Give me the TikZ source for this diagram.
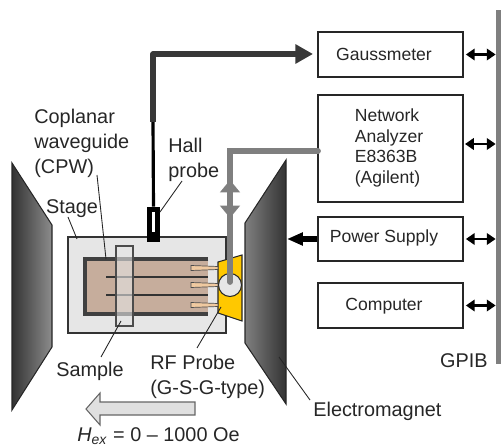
\documentclass[tikz,border=0pt]{standalone}
\usepackage{fontspec}
\setmainfont{Liberation Sans}
\usepackage{xcolor}
\usetikzlibrary{arrows.meta}
\definecolor{busgray}{HTML}{7F7F7F}
\definecolor{stagegray}{HTML}{E6E6E6}
\definecolor{cpwbrown}{HTML}{C6AD9C}
\definecolor{fingertan}{HTML}{EFC9A0}
\definecolor{probeyellow}{HTML}{FFC800}
\tikzset{
  box/.style={draw=black!85,line width=1pt,minimum width=2.9cm,inner sep=0pt},
  busarrow/.style={line width=1.2pt,{Triangle[length=5pt,width=6.5pt]}-{Triangle[length=5pt,width=6.5pt]}},
  leader/.style={line width=0.5pt,black!85},
  txt/.style={font=\fontsize{10}{11.9}\selectfont,text=black!85,inner sep=0pt},
  lab/.style={font=\fontsize{11.3}{14.2}\selectfont,text=black!85,inner sep=0pt},
}
\begin{document}
\begin{tikzpicture}[x=0.02cm,y=-0.02cm]
      \useasboundingbox (0,0) rectangle (501,446);
      % Magnets
      \draw[black!85,line width=0.6pt,left color=black!80,right color=black!45]
        (12,163) -- (52,225) -- (52,347) -- (12,410) -- cycle;
      \draw[black!85,line width=0.6pt,left color=black!50,right color=black!80]
        (245,223) -- (286,160) -- (286,404) -- (245,343) -- cycle;
      % Stage and waveguide
      \node[draw=black!80,line width=0.7pt,fill=stagegray,minimum width=3.16cm,minimum height=1.92cm,inner sep=0pt] (Stage) at (147,285) {};
      \node[fill=cpwbrown,minimum width=2.46cm,minimum height=1.1cm,inner sep=0pt] (CPW) at (146.5,286.5) {};
      \draw[black!75,line width=2.2pt] (CPW.north east) -- (CPW.north west) -- (CPW.south west) -- (CPW.south east);
      \coordinate (LineA) at (106,277);
      \coordinate (LineB) at (106,295);
      \draw[black!80,line width=1.7pt] (LineA) -- (LineA -| CPW.east);
      \draw[black!80,line width=1.7pt] (LineB) -- (LineB -| CPW.east);
      \node[draw=black!70,line width=0.6pt,fill=black!10,fill opacity=0.6,minimum width=0.34cm,minimum height=1.6cm,inner sep=0pt] (Sample) at (124.5,286) {};
      % RF probe
      \draw[black!85,line width=0.6pt,fill=probeyellow] (218,262) -- (242,255) -- (242,321) -- (218,313) -- cycle;
      \foreach \y in {268,285,305}
        \draw[black!70,line width=0.4pt,fill=fingertan] (191,\y-2.5) -- (218,\y-1.5) -- (218,\y+1.5) -- (191,\y+2.5) -- cycle;
      \node[circle,draw=black!85,line width=0.6pt,fill=stagegray,minimum size=0.46cm,inner sep=0pt] (Tip) at (230,285) {};
      % Hall probe
      \node[fill=black,minimum width=0.26cm,minimum height=0.7cm,inner sep=0pt] (Hall) at (153.5,224.5) {};
      \node[fill=white,minimum width=0.06cm,minimum height=0.4cm,inner sep=0pt] (HallSlit) at (153.5,222) {};
      % Boxes
      \node[box,minimum height=0.9cm] (Gauss) at (390.5,54.5) {};
      \node[box,minimum height=2.14cm] (Network) at (390.5,148.5) {};
      \node[box,minimum height=0.88cm] (Power) at (390.5,239) {};
      \node[box,minimum height=0.9cm] (Comp) at (390.5,305.5) {};
      \node[fill=busgray,minimum width=0.1cm,minimum height=7.08cm,inner sep=0pt] (Bus) at (498.5,187) {};
      \node[txt] (GaussText) at (384,54.5) {Gaussmeter};
      \node[txt,align=left] (NetText) at (389,148) {Network\\Analyzer\\E8363B\\(Agilent)};
      \node[txt] (PowerText) at (384,238) {Power Supply};
      \node[txt] (CompText) at (384,306) {Computer};
      % Connectors
      \foreach \b in {Gauss,Power,Comp}
        \draw[busarrow] (\b.east) ++(2,0) -- (\b.east -| Bus.west);
      \coordinate (NetBus) at (465,144);
      \draw[busarrow] (NetBus) -- (NetBus -| Bus.west);
      \coordinate (HallBend) at (153,54);
      \coordinate (HallJoin) at (153,122);
      \coordinate (GaussPort) at (313,54);
      \coordinate (NetPort) at (318,151);
      \coordinate (RfBend) at (230,151);
      \coordinate (MagPort) at (287,239);
      \draw[black,line width=1.8pt] (Hall.north) -- (HallJoin);
      \draw[black!78,line width=3.2pt,line join=round,-{Triangle[length=10pt,width=10.5pt]}] (HallJoin) -- (HallBend) -- (GaussPort);
      \draw[busgray,line width=3.3pt,line cap=round] (Tip.center) ++(0,-3) -- (RfBend) -- (NetPort);
      \draw[busgray,line width=3pt,-{Triangle[length=7pt,width=11pt]}] (230,195) -- (230,180);
      \draw[busgray,line width=3pt,-{Triangle[length=7pt,width=11pt]}] (230,200) -- (230,218);
      \draw[black,line width=3pt,-{Triangle[length=9pt,width=7pt]}] (Power.west) -- (MagPort);
      % Field arrow
      \draw[black!60,line width=0.6pt,fill=black!12] (195,402) -- (100,402) -- (100,393) -- (86,409) -- (100,425) -- (100,415) -- (195,415) -- cycle;
      % Labels
      \node[lab,align=left,anchor=west] (CPWText) at (34,143) {Coplanar\\waveguide\\(CPW)};
      \node[lab,align=left,anchor=west] (HallText) at (168,160) {Hall\\probe};
      \node[lab] (StageText) at (72,209) {Stage};
      \node[lab] (SampleText) at (90,371) {Sample};
      \node[lab,align=left,anchor=west] (RfText) at (150,377) {RF Probe\\(G-S-G-type)};
      \node[lab,anchor=west] (MagText) at (313,411.5) {Electromagnet};
      \node[lab,anchor=west] (FieldText) at (77,436.5) {\textit{H}\textsubscript{\textit{ex}} = 0 – 1000 Oe};
      \node[lab,anchor=east] (BusText) at (488,361) {GPIB};
      % Leaders
      \coordinate (CPWLead) at (97,175);
      \coordinate (CPWEnd) at (106,259);
      \coordinate (HallLead) at (182,181);
      \coordinate (HallEnd) at (160,212);
      \coordinate (StageLead) at (68,217);
      \coordinate (StageEnd) at (77,239);
      \coordinate (SampleLead) at (101,357);
      \coordinate (SampleEnd) at (121,321);
      \coordinate (RfLead) at (197,348);
      \coordinate (RfEnd) at (221,307);
      \coordinate (MagLead) at (310,400);
      \coordinate (MagEnd) at (279,357);
      \draw[leader] (CPWLead) -- (CPWEnd);
      \draw[leader] (HallLead) -- (HallEnd);
      \draw[leader] (StageLead) -- (StageEnd);
      \draw[leader] (SampleLead) -- (SampleEnd);
      \draw[leader] (RfLead) -- (RfEnd);
      \draw[leader] (MagLead) -- (MagEnd);
    \end{tikzpicture}
\end{document}
